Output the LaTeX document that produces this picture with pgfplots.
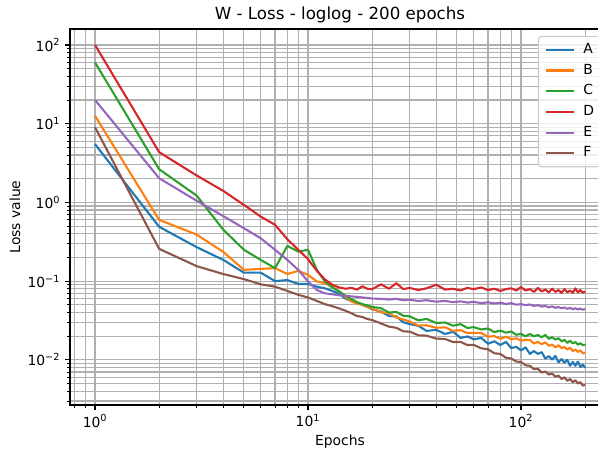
\documentclass[border=0pt]{standalone}
\usepackage{fontspec}
\setmainfont{DejaVu Sans}
\usepackage{pgfplots}
\usepackage{pgfplotstable}
\pgfplotsset{compat=1.18}
\definecolor{tabblue}{HTML}{1F77B4}
\definecolor{taborange}{HTML}{FF7F0E}
\definecolor{tabgreen}{HTML}{2CA02C}
\definecolor{tabred}{HTML}{D62728}
\definecolor{tabpurple}{HTML}{9467BD}
\definecolor{tabbrown}{HTML}{8C564B}
\definecolor{gridgray}{HTML}{B0B0B0}
\definecolor{legframe}{HTML}{CCCCCC}

\pgfplotstableread{
e A B C D E F
1 5.5 12.6 60 100 20 9.0
2 0.49 0.60 2.64 4.35 2.03 0.257
3 0.27 0.39 1.22 2.2 1.05 0.155
4 0.186 0.235 0.45 1.40 0.67 0.123
5 0.128 0.139 0.25 0.93 0.47 0.106
6 0.128 0.143 0.186 0.66 0.35 0.091
7 0.100 0.146 0.146 0.52 0.25 0.085
8 0.103 0.123 0.28 0.34 0.186 0.075
9 0.092 0.135 0.237 0.25 0.139 0.067
10 0.092 0.120 0.25 0.19 0.099 0.062
11 0.085 0.099 0.139 0.135 0.077 0.056
12 0.081 0.094 0.099 0.105 0.070 0.051
13 0.075 0.085 0.083 0.090 0.068 0.048
14 0.069 0.074 0.074 0.083 0.066 0.045
15 0.060 0.063 0.065 0.080 0.065 0.042
16 0.056 0.055 0.059 0.082 0.064 0.039
17 0.053 0.052 0.054 0.078 0.063 0.036
18 0.050 0.050 0.051 0.086 0.062 0.035
19 0.047 0.047 0.049 0.080 0.061 0.033
20 0.044 0.045 0.047 0.079 0.060 0.032
22 0.041 0.0402 0.0453 0.091 0.0595 0.0290
24 0.036 0.0391 0.0398 0.080 0.0583 0.0264
26 0.0355 0.0344 0.0406 0.094 0.0595 0.0255
28 0.030 0.0326 0.0363 0.079 0.0571 0.0230
30 0.0285 0.0307 0.0357 0.082 0.0578 0.0228
33 0.027 0.0272 0.0317 0.077 0.0560 0.0205
36 0.0233 0.0275 0.0331 0.081 0.0572 0.0203
40 0.024 0.0255 0.0294 0.090 0.0548 0.0186
44 0.0213 0.0259 0.0298 0.078 0.0560 0.0184
48 0.0227 0.0233 0.0271 0.080 0.0540 0.0168
52 0.0190 0.0238 0.0284 0.076 0.0553 0.0169
56 0.0198 0.0219 0.0254 0.082 0.0533 0.0154
60 0.0182 0.0220 0.0260 0.079 0.0545 0.0155
65 0.0190 0.0219 0.0243 0.083 0.0525 0.0140
70 0.0160 0.0197 0.0250 0.077 0.0538 0.0136
75 0.0172 0.0200 0.0225 0.080 0.0520 0.0121
80 0.0154 0.0185 0.0235 0.075 0.0532 0.0119
85 0.0169 0.0197 0.0221 0.079 0.0512 0.0106
90 0.0141 0.0182 0.0229 0.081 0.0525 0.0104
95 0.0146 0.0188 0.0208 0.076 0.0502 0.0095
100 0.0132 0.0175 0.0214 0.084 0.0510 0.0094
105 0.0144 0.0180 0.0199 0.076 0.0494 0.0085
110 0.0119 0.0179 0.0213 0.079 0.0505 0.0084
115 0.0129 0.0161 0.0199 0.073 0.0485 0.0076
120 0.0119 0.0169 0.0207 0.082 0.0494 0.0077
125 0.0125 0.0158 0.0193 0.074 0.0475 0.0069
130 0.0104 0.0167 0.0207 0.078 0.0483 0.0071
135 0.0111 0.0151 0.0185 0.072 0.0465 0.0065
140 0.0101 0.0156 0.0193 0.080 0.0477 0.0067
145 0.0112 0.0144 0.0181 0.073 0.0458 0.0061
150 0.0093 0.0153 0.0188 0.077 0.0468 0.0063
155 0.0102 0.0141 0.0172 0.071 0.0452 0.0057
160 0.0092 0.0145 0.0179 0.079 0.0462 0.0060
165 0.0100 0.0135 0.0164 0.072 0.0445 0.0054
170 0.0084 0.0143 0.0175 0.076 0.0456 0.0057
175 0.0094 0.0129 0.0162 0.071 0.0440 0.0052
180 0.0084 0.0135 0.0168 0.081 0.0452 0.0055
185 0.0095 0.0126 0.0156 0.072 0.0436 0.0050
190 0.0081 0.0132 0.0162 0.077 0.0448 0.0052
195 0.0087 0.0121 0.0154 0.071 0.0433 0.0047
200 0.0079 0.0123 0.0155 0.074 0.0440 0.0048
}\losstable

\begin{document}
\begin{tikzpicture}
\useasboundingbox (-50.4pt,-33.12pt) rectangle (380.16pt,291.6pt);
\clip (-50.4pt,-33.12pt) rectangle (380.16pt,291.6pt);
\begin{axis}[
  scale only axis,
  width=388.8pt, height=270.72pt,
  xmode=log, ymode=log,
  xmin=0.763, xmax=261.7,
  ymin=0.002665, ymax=159.7,
  xtick={1,10,100},
  xticklabels={10\textsuperscript{0},10\textsuperscript{1},10\textsuperscript{2}},
  ytick={0.01,0.1,1,10,100},
  yticklabels={10\textsuperscript{−2},10\textsuperscript{−1},10\textsuperscript{0},10\textsuperscript{1},10\textsuperscript{2}},
  minor xtick={0.8,0.9,2,3,4,5,6,7,8,9,20,30,40,50,60,70,80,90,200},
  minor ytick={0.003,0.004,0.005,0.006,0.007,0.008,0.009,0.02,0.03,0.04,0.05,0.06,0.07,0.08,0.09,0.2,0.3,0.4,0.5,0.6,0.7,0.8,0.9,2,3,4,5,6,7,8,9,20,30,40,50,60,70,80,90},
  grid=both,
  major grid style={gridgray, line width=0.8pt},
  minor grid style={gridgray, line width=0.8pt},
  tick align=outside,
  xtick pos=bottom, ytick pos=left,
  major tick length=3.5pt, minor tick length=2pt,
  every tick/.style={black, line width=0.8pt},
  every minor tick/.style={black, line width=0.6pt},
  axis line style={black, line width=0.8pt},
  tick label style={font=\fontsize{10}{12}\selectfont},
  every axis title shift=0pt,
  title={W - Loss - loglog - 200 epochs},
  title style={font=\fontsize{12}{14}\selectfont, at={(axis description cs:0.5,1)}, anchor=base, yshift=6.8pt},
  xlabel={Epochs},
  xlabel style={font=\fontsize{10}{12}\selectfont, at={(axis description cs:0.5,0)}, anchor=base, yshift=-28.8pt},
  ylabel={Loss value},
  ylabel style={font=\fontsize{10}{12}\selectfont, at={(axis description cs:-0.1019,0.5)}, anchor=center},
  legend image code/.code={\draw[#1] (0pt,0pt) -- (20pt,0pt);},
  legend cell align=left,
  legend style={at={(0.987,0.982)}, anchor=north east, draw=legframe, line width=0.8pt,
    rounded corners=2pt, fill=white, fill opacity=0.8, text opacity=1,
    font=\fontsize{10}{12}\selectfont, row sep=1.5pt, column sep=4.8pt,
    inner xsep=4.8pt, inner ysep=3pt,
    nodes={inner xsep=1.2pt, inner ysep=2pt, text height=7.3pt, text depth=2.1pt}},
  every axis plot/.append style={line width=1.5pt, line join=round},
]
\addplot[tabblue] table[x=e,y=A]{\losstable};
\addlegendentry{A}
\addplot[taborange] table[x=e,y=B]{\losstable};
\addlegendentry{B}
\addplot[tabgreen] table[x=e,y=C]{\losstable};
\addlegendentry{C}
\addplot[tabred] table[x=e,y=D]{\losstable};
\addlegendentry{D}
\addplot[tabpurple] table[x=e,y=E]{\losstable};
\addlegendentry{E}
\addplot[tabbrown] table[x=e,y=F]{\losstable};
\addlegendentry{F}
\end{axis}
\end{tikzpicture}
\end{document}
